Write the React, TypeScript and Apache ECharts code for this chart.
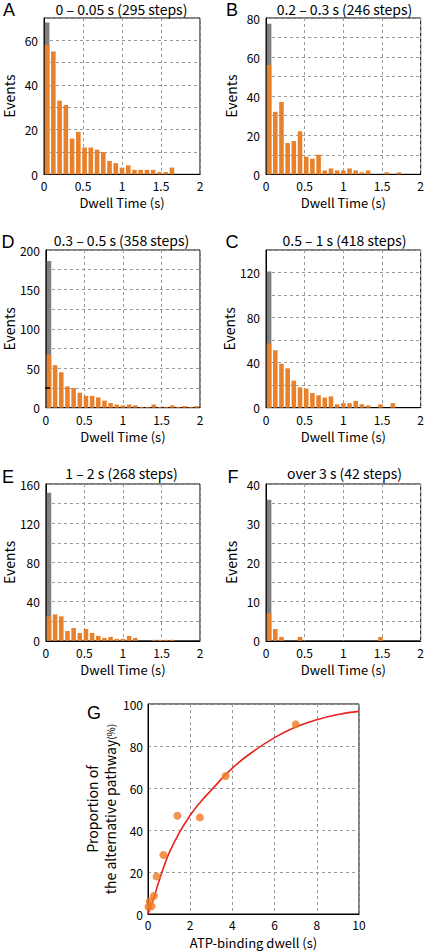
import React, { useEffect, useRef } from 'react';
import * as echarts from 'echarts';

// ---- data ----
const binCenters = ['0.04','0.12','0.20','0.28','0.36','0.44','0.52','0.60','0.68','0.76','0.84','0.92','1.00','1.08','1.16','1.24','1.32','1.40','1.48','1.56','1.64','1.72','1.80','1.88','1.96'];

const panelLetters = ['A', 'B', 'D', 'C', 'E', 'F'];
const panelTitles = [
  '0 – 0.05 s (295 steps)',
  '0.2 – 0.3 s (246 steps)',
  '0.3 – 0.5 s (358 steps)',
  '0.5 – 1 s (418 steps)',
  '1 – 2 s (268 steps)',
  'over 3 s (42 steps)',
];

const orangeA = [58, 55, 33, 31, 16, 19, 12, 12, 11, 10, 6, 5, 3, 4, 2, 2, 2, 2, 1, 1, 3, 0, 0, 0, 0];
const orangeB = [56, 32, 37, 16, 17, 22, 9, 8, 10, 2, 3, 2, 2, 3, 2, 1, 2, 0, 0, 1, 0, 1, 0, 0, 0];
const orangeD = [67, 54, 45, 27, 25, 19, 15, 15, 13, 9, 6, 4, 3, 4, 3, 1, 1, 4, 1, 1, 3, 1, 2, 1, 2];
const orangeC = [57, 51, 39, 35, 24, 18, 17, 13, 11, 9, 10, 3, 4, 4, 6, 3, 2, 0, 3, 0, 4, 0, 0, 0, 0];
const orangeE = [25, 27, 25, 10, 13, 8, 12, 8, 5, 3, 4, 2, 2, 5, 3, 0, 0, 1, 1, 1, 1, 0, 0, 0, 0];
const orangeF = [7, 3, 1, 0, 0, 1, 0, 0, 0, 0, 0, 0, 0, 0, 0, 0, 0, 0, 1, 0, 0, 0, 0, 0, 0];
const orangeSeries = [orangeA, orangeB, orangeD, orangeC, orangeE, orangeF];

// total height of the first (grey) bin in each panel
const greyFirstBin = [68, 77, 186, 121, 151, 36];

const yMax = [70, 80, 200, 140, 160, 40];
const yGridStep = [10, 10, 25, 20, 20, 5];
const yLabelStep = [20, 20, 50, 40, 40, 10];
const dMarkLevel = 25;

const xMin = 0;
const xMax = 2;
const xStep = 0.5;

// panel G
const gPointX = [0.02, 0.08, 0.17, 0.28, 0.41, 0.73, 1.39, 2.46, 3.68, 7.0];
const gPointY = [3.3, 6.0, 3.7, 8.6, 17.9, 28.1, 46.8, 46.0, 65.7, 90.3];
const gFitX = [0, 0.25, 0.5, 0.75, 1, 1.5, 2, 2.5, 3, 4, 5, 6, 7, 8, 9, 10];
const gFitY = [0, 7, 15, 22.5, 29, 39, 47, 53.5, 59, 69.5, 77.5, 84, 89, 92.5, 95, 96.5];

// ---- styles / layout ----
const FONT = "'Noto Sans CJK JP', 'Noto Sans', sans-serif";
const ORANGE = '#E8812C';
const GREY = '#808080';
const RED = '#E8231C';
const DOT = '#F07A22';
const GRIDLINE = { show: true, lineStyle: { color: '#9a9a9a', type: [3, 3] as any, width: 1 } };

const panelBoxes = [
  { left: 43, top: 18, width: 157, height: 156.3 },
  { left: 266, top: 18, width: 157, height: 156.3 },
  { left: 43, top: 250, width: 157, height: 157.7 },
  { left: 266, top: 250, width: 157, height: 157.7 },
  { left: 43, top: 484, width: 157, height: 156.8 },
  { left: 266, top: 484, width: 157, height: 156.8 },
];
const gBox = { left: 148, top: 704, width: 211, height: 210 };
const titleY = [9, 9, 240, 240, 473, 473];
const letterPos = [
  [9, 10], [232, 10], [8, 242], [232, 242], [8, 477], [233, 477],
];

function buildOption() {
  const grid: any[] = [];
  const xAxis: any[] = [];
  const yAxis: any[] = [];
  const series: any[] = [];
  const graphic: any[] = [];

  panelBoxes.forEach((b, i) => {
    grid.push({ ...b, show: true, borderColor: '#000', borderWidth: 1, backgroundColor: '#fff' });
    xAxis.push({
      type: 'category', gridIndex: i, data: binCenters, position: 'bottom', show: false,
      boundaryGap: true,
    });
    xAxis.push({
      type: 'value', gridIndex: i, min: xMin, max: xMax, interval: xStep, position: 'bottom',
      axisLine: { show: true, lineStyle: { color: '#000', width: 1 } },
      axisTick: { show: false },
      axisLabel: { color: '#000', fontSize: 12, lineHeight: 13, fontFamily: FONT, margin: 5 },
      splitLine: GRIDLINE,
      name: 'Dwell Time (s)', nameLocation: 'middle', nameGap: 21,
      nameTextStyle: { color: '#000', fontSize: 13, lineHeight: 15, fontFamily: FONT },
    });
    const ls = yLabelStep[i];
    yAxis.push({
      type: 'value', gridIndex: i, min: 0, max: yMax[i], interval: yGridStep[i],
      axisLine: { show: true, lineStyle: { color: '#000', width: 1 } },
      axisTick: { show: false },
      axisLabel: {
        color: '#000', fontSize: 12, fontFamily: FONT, margin: 6,
        formatter: (v: number) => (v % ls === 0 ? String(v) : ''),
      },
      splitLine: GRIDLINE,
      name: 'Events', nameLocation: 'middle', nameGap: 28,
      nameTextStyle: { color: '#000', fontSize: 14, lineHeight: 15, fontFamily: FONT },
    });
    series.push({
      type: 'bar', xAxisIndex: 2 * i, yAxisIndex: i,
      data: binCenters.map((_, k) => (k === 0 ? greyFirstBin[i] : null)),
      barWidth: '74%', barGap: '-100%',
      itemStyle: { color: GREY }, silent: true,
    });
    series.push({
      type: 'bar', xAxisIndex: 2 * i, yAxisIndex: i,
      data: orangeSeries[i],
      barWidth: '74%', barGap: '-100%',
      itemStyle: { color: ORANGE }, silent: true,
    });
    graphic.push({
      type: 'text', x: b.left + b.width / 2, y: titleY[i],
      style: { text: panelTitles[i], fill: '#000', font: `14px ${FONT}`, textAlign: 'center', textVerticalAlign: 'middle' },
    });
    graphic.push({
      type: 'text', x: letterPos[i][0], y: letterPos[i][1],
      style: { text: panelLetters[i], fill: '#000', font: "18px 'Liberation Sans', Arial, sans-serif", textAlign: 'center', textVerticalAlign: 'middle' },
    });
  });

  // black marker in panel D
  series.push({
    type: 'scatter', xAxisIndex: 4, yAxisIndex: 2,
    data: [[0, dMarkLevel]], symbol: 'rect', symbolSize: [5, 2], symbolOffset: [-1.5, 0],
    itemStyle: { color: '#000' }, z: 10, silent: true,
  });

  // panel G
  grid.push({ ...gBox, show: true, borderColor: '#000', borderWidth: 1, backgroundColor: '#fff' });
  xAxis.push({
    type: 'value', gridIndex: 6, min: 0, max: 10, interval: 2,
    axisLine: { show: true, lineStyle: { color: '#000' } },
    axisTick: { show: false },
    axisLabel: { color: '#000', fontSize: 12, lineHeight: 13, fontFamily: FONT, margin: 4 },
    splitLine: GRIDLINE,
    name: 'ATP-binding dwell (s)', nameLocation: 'middle', nameGap: 21,
    nameTextStyle: { color: '#000', fontSize: 13, lineHeight: 14, fontFamily: FONT },
  });
  yAxis.push({
    type: 'value', gridIndex: 6, min: 0, max: 100, interval: 20,
    axisLine: { show: true, lineStyle: { color: '#000' } },
    axisTick: { show: false },
    axisLabel: { color: '#000', fontSize: 12, fontFamily: FONT, margin: 5 },
    splitLine: GRIDLINE,
    name: 'Proportion of\nthe alternative pathway{p|(%)}', nameLocation: 'middle', nameGap: 29,
    nameTextStyle: {
      color: '#000', fontSize: 14, fontFamily: FONT, lineHeight: 18,
      rich: { p: { fontSize: 10, fontFamily: FONT, color: '#000' } },
    },
  });
  series.push({
    type: 'line', xAxisIndex: 12, yAxisIndex: 6,
    data: gFitX.map((x, k) => [x, gFitY[k]]),
    smooth: true, showSymbol: false, symbol: 'none',
    lineStyle: { color: RED, width: 1.6 }, silent: true, z: 3,
  });
  series.push({
    type: 'scatter', xAxisIndex: 12, yAxisIndex: 6,
    data: gPointX.map((x, k) => [x, gPointY[k]]),
    symbolSize: 8, itemStyle: { color: DOT }, silent: true, z: 5,
  });
  graphic.push({
    type: 'text', x: 94, y: 713,
    style: { text: 'G', fill: '#000', font: "18px 'Liberation Sans', Arial, sans-serif", textAlign: 'center', textVerticalAlign: 'middle' },
  });

  return {
    animation: false,
    backgroundColor: '#fff',
    grid, xAxis, yAxis, series, graphic,
  };
}

export default function App() {
  const ref = useRef<HTMLDivElement>(null);
  useEffect(() => {
    if (!ref.current) return;
    const chart = echarts.init(ref.current, undefined, { renderer: 'svg' });
    chart.setOption(buildOption() as any);
    return () => chart.dispose();
  }, []);
  return (
    <div
      ref={ref}
      style={{ position: 'fixed', left: 0, top: 0, width: 427, height: 951, background: '#fff' }}
    />
  );
}
